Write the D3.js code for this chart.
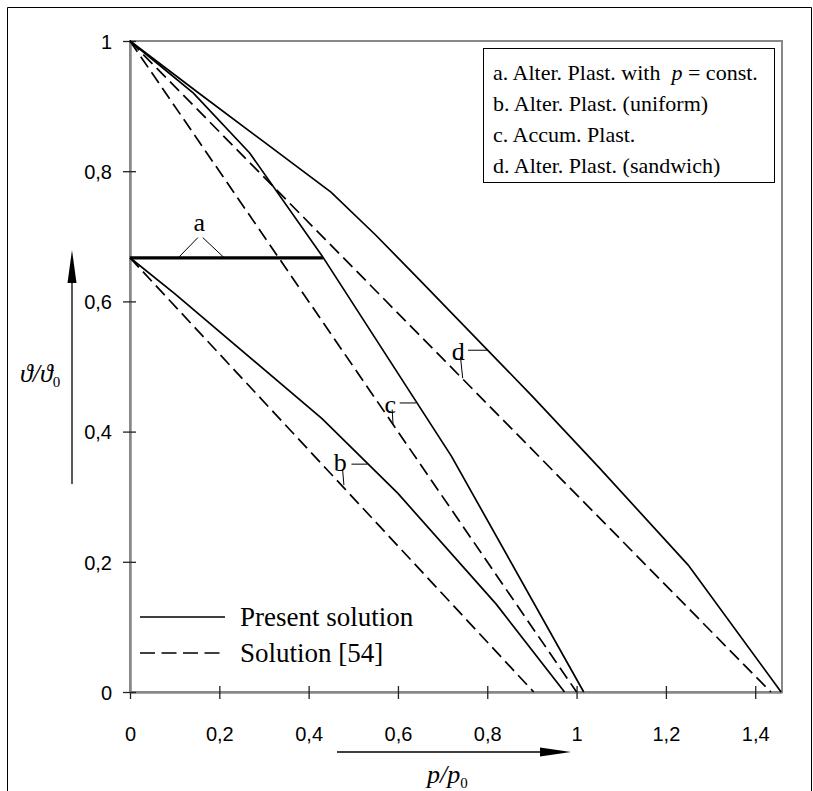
<!DOCTYPE html>
<html>
<head>
<meta charset="utf-8">
<script src="https://cdn.jsdelivr.net/npm/d3@7"></script>
<style>
  html, body { margin: 0; padding: 0; background: #fff; }
  svg { display: block; }
  text { white-space: pre; }
</style>
</head>
<body>
<svg id="chart" width="813" height="791"></svg>
<script>
// ---- data -------------------------------------------------------------
const xTicks = [0, 0.2, 0.4, 0.6, 0.8, 1, 1.2, 1.4];
const yTicks = [0, 0.2, 0.4, 0.6, 0.8, 1];

// curve a: alternating plasticity with p = const (thick horizontal segment)
const aX = [0, 0.432];
const aY = [0.667, 0.667];

// curve b: alternating plasticity, uniform
const bSolidX = [0, 0.1, 0.43, 0.6, 0.82, 0.973];
const bSolidY = [0.667, 0.612, 0.42, 0.305, 0.135, 0];
const bDashX = [0, 0.904];
const bDashY = [0.667, 0];

// curve c: accumulated plasticity
const cSolidX = [0, 0.142, 0.268, 0.432, 0.72, 1.016];
const cSolidY = [1, 0.92, 0.828, 0.668, 0.362, 0];
const cDashX = [0, 1.0];
const cDashY = [1, 0];

// curve d: alternating plasticity, sandwich
const dSolidX = [0, 0.15, 0.3, 0.45, 0.55, 0.65, 0.9, 1.05, 1.25, 1.458];
const dSolidY = [1, 0.922, 0.845, 0.768, 0.702, 0.632, 0.455, 0.345, 0.195, 0];
const dDashX = [0, 1.435];
const dDashY = [1, 0];

const legendBoxItems = [
  ["a. Alter. Plast. with  ", "p", " = const."],
  ["b. Alter. Plast. (uniform)"],
  ["c. Accum. Plast."],
  ["d. Alter. Plast. (sandwich)"]
];
const legendLines = ["Present solution", "Solution [54]"];

// ---- layout -----------------------------------------------------------
const svg = d3.select("#chart");
const x = d3.scaleLinear().domain([0, 1.46]).range([130, 782]);
const y = d3.scaleLinear().domain([0, 1]).range([692, 41]);
const fmt = v => String(v).replace(".", ",");
const serif = "'Liberation Serif', 'Times New Roman', serif";
const sans = "'Liberation Sans', Arial, sans-serif";
const DASH = "13,6";

// outer frame (open at the bottom)
svg.append("path")
  .attr("d", "M7.5,800 V7.5 H811.5 V800")
  .attr("fill", "none").attr("stroke", "#000").attr("stroke-width", 1);

// plot area border
svg.append("rect")
  .attr("x", x(0)).attr("y", y(1))
  .attr("width", x(1.46) - x(0)).attr("height", y(0) - y(1))
  .attr("fill", "none").attr("stroke", "#888").attr("stroke-width", 2);

// axes
const xAxis = svg.append("g").attr("transform", `translate(0,${y(0)})`)
  .call(d3.axisBottom(x).tickValues(xTicks).tickFormat(fmt).tickSize(7).tickSizeOuter(0));
const yAxis = svg.append("g").attr("transform", `translate(${x(0)},0)`)
  .call(d3.axisLeft(y).tickValues(yTicks).tickFormat(fmt).tickSize(7).tickSizeOuter(0));

[xAxis, yAxis].forEach(g => {
  g.select(".domain").attr("stroke", "#888").attr("stroke-width", 2.5);
  g.selectAll(".tick line").attr("stroke", "#222").attr("stroke-width", 1.3);
  g.selectAll(".tick text").attr("font-family", sans).attr("font-size", 20).attr("fill", "#000");
});
xAxis.selectAll(".tick line").attr("y1", -6).attr("y2", 7);
xAxis.selectAll(".tick text").attr("y", 35).attr("dy", "0.71em");
yAxis.selectAll(".tick line").attr("x1", 6).attr("x2", -7);
yAxis.selectAll(".tick text").attr("x", -18).attr("dy", "0.36em");

// ---- curves -----------------------------------------------------------
const line = d3.line().x(d => x(d[0])).y(d => y(d[1]));
const zip = (xs, ys) => xs.map((v, i) => [v, ys[i]]);

const curves = [
  { xs: bDashX, ys: bDashY, dash: true },
  { xs: cDashX, ys: cDashY, dash: true },
  { xs: dDashX, ys: dDashY, dash: true },
  { xs: bSolidX, ys: bSolidY },
  { xs: cSolidX, ys: cSolidY },
  { xs: dSolidX, ys: dSolidY }
];
svg.append("g").selectAll("path").data(curves).join("path")
  .attr("d", c => line(zip(c.xs, c.ys)))
  .attr("fill", "none").attr("stroke", "#000")
  .attr("stroke-width", 1.7)
  .attr("stroke-dasharray", c => c.dash ? DASH : null);

svg.append("path")
  .attr("d", line(zip(aX, aY)))
  .attr("fill", "none").attr("stroke", "#000").attr("stroke-width", 3.2);

// ---- curve labels with leader lines ------------------------------------
const labelFont = 26;
function label(txt, lx, ly) {
  svg.append("text").attr("x", lx).attr("y", ly)
    .attr("font-family", serif).attr("font-size", labelFont)
    .attr("text-anchor", "middle").text(txt);
}
function leader(x1, y1, x2, y2) {
  svg.append("line").attr("x1", x1).attr("y1", y1).attr("x2", x2).attr("y2", y2)
    .attr("stroke", "#000").attr("stroke-width", 1);
}

// a
label("a", x(0.155), y(0.708));
leader(x(0.152), y(0.698), x(0.108), y(aY[0]));
leader(x(0.163), y(0.698), x(0.211), y(aY[0]));
// b
label("b", x(0.471), y(0.339));
leader(x(0.496), y(0.35), x(0.532), y(0.35));
leader(x(0.476), y(0.342), x(0.479), y(0.318));
// c
label("c", x(0.583), y(0.428));
leader(x(0.604), y(0.444), x(0.641), y(0.444));
leader(x(0.587), y(0.434), x(0.589), y(0.412));
// d
label("d", x(0.735), y(0.51));
leader(x(0.757), y(0.525), x(0.80), y(0.525));
leader(x(0.740), y(0.515), x(0.745), y(0.482));

// ---- legend box (top right) --------------------------------------------
const lg = svg.append("g");
lg.append("rect").attr("x", 483.5).attr("y", 48.5).attr("width", 291).attr("height", 134)
  .attr("fill", "#fff").attr("stroke", "#000").attr("stroke-width", 1);
legendBoxItems.forEach((parts, i) => {
  const t = lg.append("text").attr("x", 493).attr("y", 80 + i * 31)
    .attr("font-family", serif).attr("font-size", 22);
  parts.forEach((p, j) => {
    const s = t.append("tspan").text(p);
    if (parts.length > 1 && j === 1) s.attr("font-style", "italic");
  });
});

// ---- line-style legend (bottom left) -----------------------------------
legendLines.forEach((txt, i) => {
  const yy = 617 + i * 36;
  svg.append("line").attr("x1", 140).attr("x2", 225).attr("y1", yy).attr("y2", yy)
    .attr("stroke", "#000").attr("stroke-width", 1.7)
    .attr("stroke-dasharray", i === 1 ? "15,6.5" : null);
  svg.append("text").attr("x", 240).attr("y", yy + 9)
    .attr("font-family", serif).attr("font-size", 27).text(txt);
});

// ---- axis titles with arrows -------------------------------------------
// x arrow
svg.append("line").attr("x1", 337).attr("x2", 545).attr("y1", 752).attr("y2", 752)
  .attr("stroke", "#000").attr("stroke-width", 1.3);
svg.append("path").attr("d", "M540,747.5 L571,752 L540,756.5 Z").attr("fill", "#000");
const xt = svg.append("text").attr("x", 427).attr("y", 783)
  .attr("font-family", serif).attr("font-size", 26);
xt.append("tspan").attr("font-style", "italic").text("p/p");
xt.append("tspan").attr("font-size", 15).attr("dy", 5).text("0");

// y arrow
svg.append("line").attr("x1", 72).attr("x2", 72).attr("y1", 484).attr("y2", 278)
  .attr("stroke", "#000").attr("stroke-width", 1.3);
svg.append("path").attr("d", "M67.5,283 L72,250 L76.5,283 Z").attr("fill", "#000");
const yt = svg.append("text").attr("x", 20).attr("y", 382)
  .attr("font-family", serif).attr("font-size", 26);
yt.append("tspan").attr("font-style", "italic").text("\u03D1/\u03D1");
yt.append("tspan").attr("font-size", 15).attr("dy", 5).text("0");
</script>
</body>
</html>
